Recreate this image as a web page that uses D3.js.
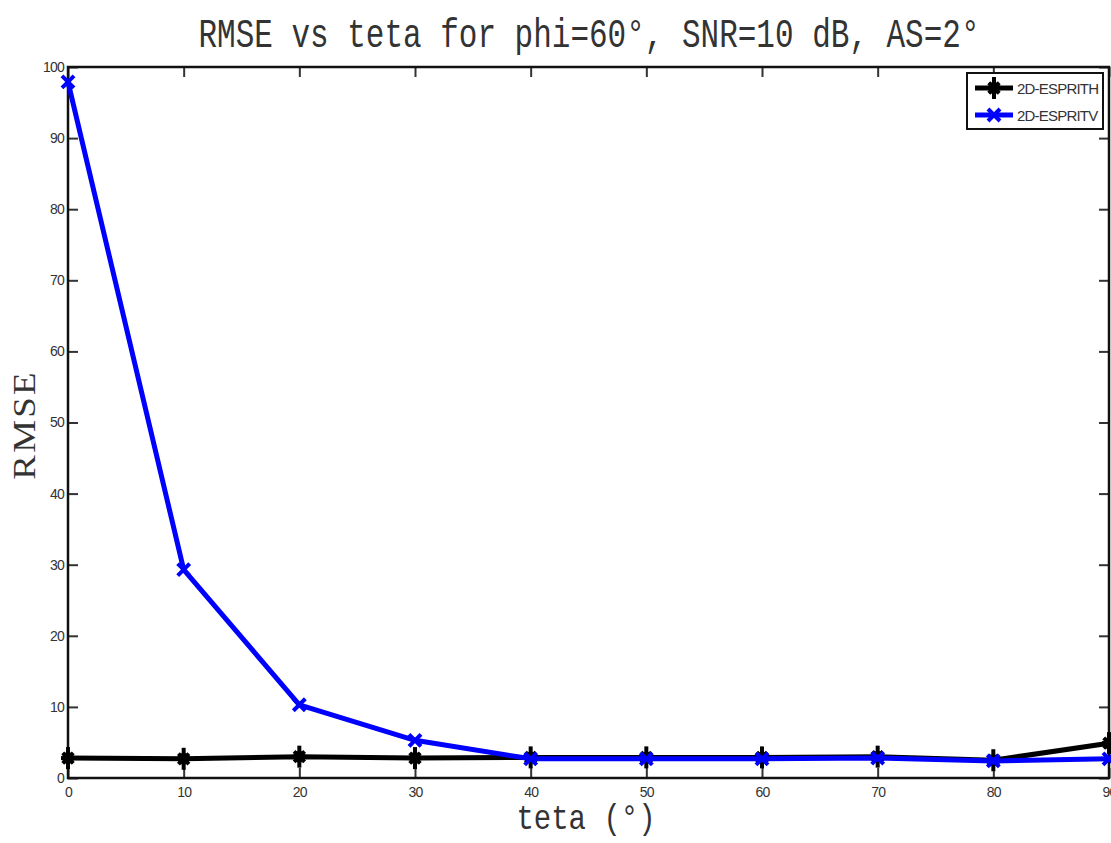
<!DOCTYPE html>
<html>
<head>
<meta charset="utf-8">
<script src="https://cdn.jsdelivr.net/npm/d3@7"></script>
<style>
body { margin:0; background:#fff; }
svg { display:block; }
</style>
</head>
<body>
<svg></svg>
<script>
var screen = {width:1111, height:843}
var margins = {top:67, right:2, bottom:65, left:68}

// data
var teta = [0,10,20,30,40,50,60,70,80,90]
var espritH = [2.8,2.7,3.0,2.8,2.9,2.9,2.9,3.0,2.5,4.9]
var espritV = [97.9,29.3,10.3,5.3,2.7,2.7,2.7,2.8,2.4,2.7]
var xTicks = [0,10,20,30,40,50,60,70,80,90]
var yTicks = [0,10,20,30,40,50,60,70,80,90,100]
var seriesNames = ["2D-ESPRITH","2D-ESPRITV"]

var width = screen.width - margins.left - margins.right
var height = screen.height - margins.top - margins.bottom

var svg = d3.select("svg")
    .attr("width",screen.width)
    .attr("height",screen.height)

var xScale = d3.scaleLinear().domain([0,90]).range([0,width])
var yScale = d3.scaleLinear().domain([0,100]).range([height,0])

var g = svg.append("g")
    .attr("transform","translate("+margins.left+","+margins.top+")")

// axes, ticks inward like matlab box
var styleAxis = function(sel){
    sel.select(".domain").remove()
    sel.selectAll(".tick line").attr("stroke","#333").attr("stroke-width",2)
    sel.selectAll(".tick text")
        .attr("font-family","'Liberation Sans Narrow','Liberation Sans',Arial,sans-serif")
        .attr("font-size",14)
        .attr("letter-spacing",-0.8)
        .attr("fill","#333")
}
g.append("g").attr("transform","translate(0,"+height+")")
    .call(d3.axisBottom(xScale).tickValues(xTicks).tickSize(-10).tickPadding(9))
    .call(styleAxis)
g.append("g")
    .call(d3.axisTop(xScale).tickValues(xTicks).tickSize(-10).tickFormat(""))
    .call(styleAxis)
g.append("g")
    .call(d3.axisLeft(yScale).tickValues(yTicks).tickSize(-10).tickPadding(4))
    .call(styleAxis)
g.append("g").attr("transform","translate("+width+",0)")
    .call(d3.axisRight(yScale).tickValues(yTicks).tickSize(-10).tickFormat(""))
    .call(styleAxis)

g.append("rect")
    .attr("width",width).attr("height",height)
    .attr("fill","none").attr("stroke","#111").attr("stroke-width",2.5)

var line = d3.line()
    .x(function(d,i){return xScale(teta[i])})
    .y(function(d){return yScale(d)})

var star = function(sel,col){
    var s = 7
    var lines = [[-s,0,s,0],[0,-s-4,0,s+4],[-s*0.75,-s*0.75,s*0.75,s*0.75],[-s*0.75,s*0.75,s*0.75,-s*0.75]]
    lines.forEach(function(l){
        sel.append("line").attr("x1",l[0]).attr("y1",l[1]).attr("x2",l[2]).attr("y2",l[3])
            .attr("stroke",col).attr("stroke-width",4)
    })
    sel.append("circle").attr("r",6).attr("fill",col)
}
var cross = function(sel,col){
    var s = 6
    sel.append("path").attr("d","M"+(-s)+","+(-s)+"L"+s+","+s+"M"+(-s)+","+s+"L"+s+","+(-s))
        .attr("stroke",col).attr("stroke-width",4).attr("fill","none")
}

var drawSeries = function(vals,col,marker){
    g.append("path").datum(vals)
        .attr("d",line)
        .attr("fill","none")
        .attr("stroke",col)
        .attr("stroke-width",5)
        .attr("stroke-linejoin","round")
    g.selectAll(null).data(vals).enter()
        .append("g")
        .attr("transform",function(d,i){return "translate("+xScale(teta[i])+","+yScale(d)+")"})
        .each(function(){ marker(d3.select(this),col) })
}
drawSeries(espritH,"#000",star)
drawSeries(espritV,"#0000ff",cross)

// legend
var leg = svg.append("g").attr("transform","translate(967,73)")
leg.append("rect").attr("width",136).attr("height",56)
    .attr("fill","#fff").attr("stroke","#111").attr("stroke-width",2)
var legCols = ["#000","#0000ff"]
var legMarks = [star,cross]
seriesNames.forEach(function(n,i){
    var y = 15 + i*27
    leg.append("line").attr("x1",8).attr("x2",46).attr("y1",y).attr("y2",y)
        .attr("stroke",legCols[i]).attr("stroke-width",5)
    var m = leg.append("g").attr("transform","translate(27,"+y+")")
    legMarks[i](m,legCols[i])
    leg.append("text").attr("x",50).attr("y",y+6)
        .attr("font-family","'Liberation Sans Narrow','Liberation Sans',Arial,sans-serif")
        .attr("font-size",15).attr("letter-spacing",-0.8).attr("fill","#333")
        .text(n)
})

// title and axis labels
svg.append("text")
    .attr("transform","translate(589,47) scale(1,1.3)")
    .attr("text-anchor","middle")
    .attr("font-family","'Liberation Mono','DejaVu Sans Mono',monospace")
    .attr("font-size",31).attr("fill","#333")
    .text("RMSE vs teta for phi=60°, SNR=10 dB, AS=2°")

svg.append("text")
    .attr("transform","translate(586,829) scale(1,1.2)")
    .attr("text-anchor","middle")
    .attr("font-family","'Liberation Mono','DejaVu Sans Mono',monospace")
    .attr("font-size",29).attr("fill","#333")
    .text("teta (°)")

svg.append("text")
    .attr("transform","translate(35,425) rotate(-90) scale(1.15,1)")
    .attr("text-anchor","middle")
    .attr("font-family","'Liberation Serif','Times New Roman',serif")
    .attr("font-size",32).attr("fill","#333")
    .attr("letter-spacing",2)
    .text("RMSE")
</script>
</body>
</html>
